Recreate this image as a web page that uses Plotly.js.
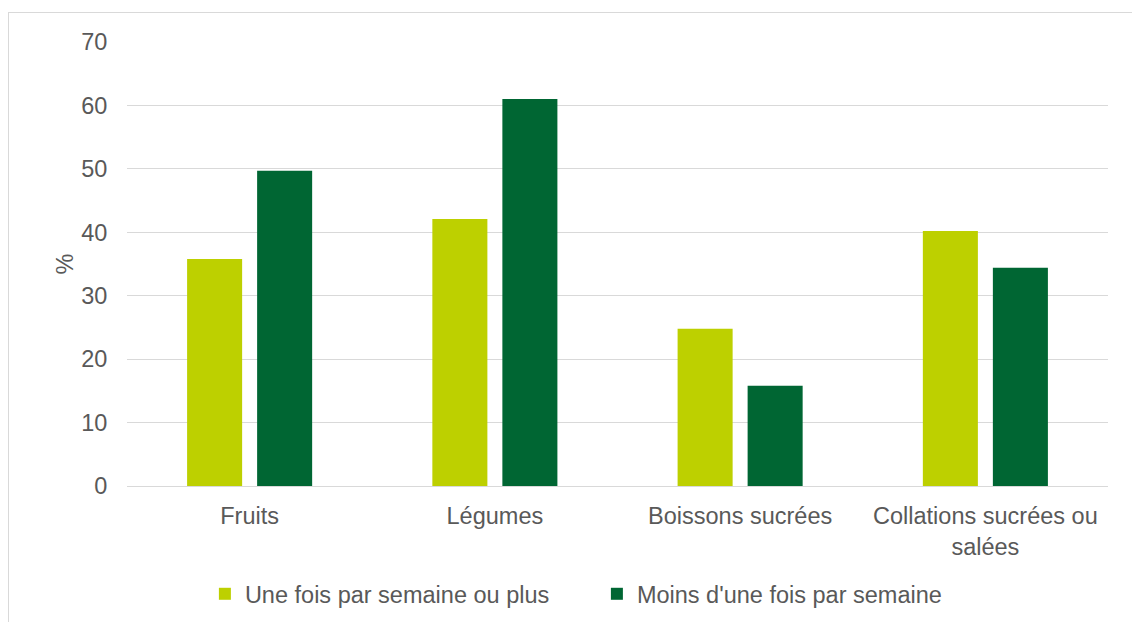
<!DOCTYPE html>
<html><head><meta charset="utf-8">
<script src="https://cdn.plot.ly/plotly-3.0.1.min.js"></script>
<style>
html,body{margin:0;padding:0;background:#fff;}
#frame{position:absolute;left:8px;top:12px;width:1200px;height:700px;border:1px solid #d9d9d9;pointer-events:none;}
#chart{position:absolute;left:0;top:0;width:1132px;height:622px;}
</style></head>
<body>
<div id="frame"></div>
<div id="chart"></div>
<script>
const categories = ["Fruits", "Légumes", "Boissons sucrées", "Collations sucrées ou<br>salées"];
const seriesNames = ["Une fois par semaine ou plus", "Moins d'une fois par semaine"];
const weeklyOrMore = [35.8, 42.1, 24.8, 40.2];
const lessThanWeekly = [49.7, 61.0, 15.8, 34.4];
const yTicks = [0, 10, 20, 30, 40, 50, 60, 70];

const FS = 23.5;
const font = {family: "Liberation Sans, Arial, sans-serif", size: FS, color: "#595959"};

const traces = [
  {type: "bar", name: seriesNames[0], x: categories, y: weeklyOrMore, marker: {color: "#bdd000"}, hoverinfo: "none"},
  {type: "bar", name: seriesNames[1], x: categories, y: lessThanWeekly, marker: {color: "#006633"}, hoverinfo: "none"}
];

const layout = {
  width: 1132, height: 622,
  margin: {l: 127, r: 24, t: 42, b: 136},
  paper_bgcolor: "rgba(0,0,0,0)", plot_bgcolor: "rgba(0,0,0,0)",
  font: font,
  barmode: "group", bargap: 0.429, bargroupgap: 0.214,
  showlegend: true,
  legend: {orientation: "h", xref: "container", yref: "container",
           x: 0.181, xanchor: "left", y: 0.045, yanchor: "middle",
           font: font, itemwidth: 30, traceorder: "normal",
           entrywidth: 347, entrywidthmode: "pixels"},
  xaxis: {type: "category", showgrid: false, zeroline: false, showline: false, automargin: false,
          ticks: "outside", ticklen: 9, tickcolor: "rgba(0,0,0,0)",
          tickfont: font},
  yaxis: {range: [0, 70], tickvals: yTicks, ticktext: yTicks.map(String), automargin: false,
          showgrid: true, gridcolor: "#d9d9d9", gridwidth: 1,
          zeroline: true, zerolinecolor: "#d9d9d9", zerolinewidth: 1, showline: false,
          ticks: "outside", ticklen: 14, tickcolor: "rgba(0,0,0,0)",
          tickfont: font,
          title: {text: "%", standoff: 0, font: font}}
};

Plotly.newPlot("chart", traces, layout, {displayModeBar: false, staticPlot: true});
</script>
</body></html>
